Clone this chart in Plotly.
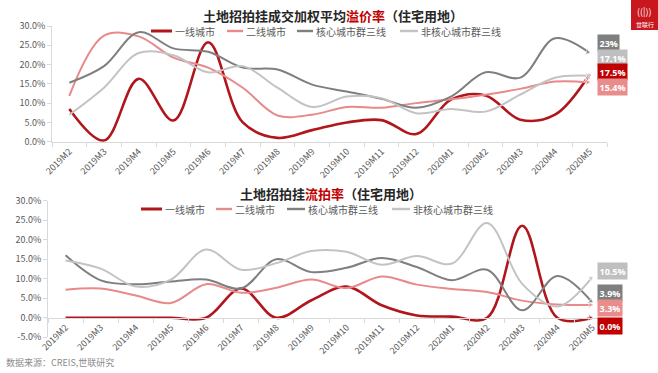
import plotly.graph_objects as go

cats = ["2019M2","2019M3","2019M4","2019M5","2019M6","2019M7","2019M8","2019M9",
        "2019M10","2019M11","2019M12","2020M1","2020M2","2020M3","2020M4","2020M5"]
series_names = ["一线城市", "二线城市", "核心城市群三线", "非核心城市群三线"]

# 溢价率 (%)
prem_tier1 = [8.5, 0.3, 16.3, 5.5, 25.8, 5.0, 1.0, 3.0, 5.0, 5.6, 2.0, 10.9, 12.0, 5.7, 7.0, 17.5]
prem_tier2 = [11.9, 27.5, 27.3, 21.8, 19.2, 14.0, 6.8, 7.0, 9.0, 8.8, 10.0, 11.0, 12.2, 13.7, 15.6, 15.4]
prem_core3 = [15.3, 19.6, 28.4, 24.2, 23.3, 19.2, 18.7, 14.8, 13.0, 11.1, 8.8, 11.7, 18.0, 16.6, 26.8, 23.0]
prem_noncore3 = [7.0, 14.0, 23.0, 22.4, 18.0, 19.6, 14.0, 9.0, 11.7, 11.3, 7.4, 8.5, 7.8, 12.2, 16.6, 17.1]

# 流拍率 (%)
flow_tier1 = [0, 0, 0, 0, 0, 7.5, 0, 4.5, 8.0, 3.2, 0.6, 0.3, 0, 23.6, 0, 0.0]
flow_tier2 = [7.2, 7.5, 5.7, 3.8, 8.6, 6.4, 7.7, 9.8, 7.6, 10.6, 8.5, 7.4, 6.6, 4.4, 3.4, 3.3]
flow_core3 = [16.0, 9.6, 8.6, 9.3, 9.8, 7.5, 15.0, 11.7, 12.8, 15.3, 13.0, 9.6, 12.3, 1.9, 10.7, 3.9]
flow_noncore3 = [14.7, 12.6, 8.0, 9.8, 17.5, 12.3, 14.0, 17.1, 16.9, 13.6, 15.8, 13.9, 24.3, 8.7, 2.9, 10.5]

yticks_top = [0, 5, 10, 15, 20, 25, 30]
yticks_bot = [-5, 0, 5, 10, 15, 20, 25, 30]

colors = ["#B0161C", "#E8898A", "#7F7F7F", "#C3C3C3"]
box_colors = ["#C00000", "#E88C8C", "#7F7F7F", "#BFBFBF"]
widths = [2.6, 2.0, 2.0, 2.0]

FONT = "Noto Sans CJK SC"
NUM_FONT = "Open Sans"
W, H = 658, 373

def px(x):
    return x / W

def py(y):
    return 1 - y / H

fig = go.Figure()

top_data = [prem_tier1, prem_tier2, prem_core3, prem_noncore3]
bot_data = [flow_tier1, flow_tier2, flow_core3, flow_noncore3]

n = len(cats)
for data, xa, ya in [(top_data, "x", "y"), (bot_data, "x2", "y2")]:
    for i, vals in enumerate(data):
        fig.add_trace(go.Scatter(
            x=cats, y=vals, xaxis=xa, yaxis=ya, mode="lines+markers",
            line=dict(color=colors[i], width=widths[i], shape="spline", smoothing=1.0),
            marker=dict(symbol="arrow-wide", angleref="previous",
                        size=[0] * (n - 1) + [8], color=colors[i]),
            showlegend=False, hoverinfo="skip"))

axis_common = dict(tickfont=dict(size=9, color="#595959", family=FONT),
                   showgrid=False, automargin=False)

bot_y0, bot_y1 = 337.3, 200.7
zero_px = bot_y0 - (bot_y0 - bot_y1) * 5 / 35

fig.update_layout(
    width=W, height=H, autosize=False,
    margin=dict(l=0, r=0, t=0, b=0, pad=0),
    paper_bgcolor="white", plot_bgcolor="white",
    font=dict(family=FONT, color="#404040"),
    xaxis=dict(domain=[px(52), px(607)], anchor="y", type="category",
               range=[-0.5, n - 0.5], tickangle=-45, showline=True,
               linecolor="#D9D9D9", linewidth=1, ticks="outside",
               tickson="boundaries", ticklen=4, tickcolor="#D9D9D9",
               **axis_common),
    yaxis=dict(domain=[py(141.7), py(26)], anchor="x", range=[0, 30],
               tickvals=yticks_top, ticktext=[f"{v:.1f}%" for v in yticks_top],
               showline=True, linecolor="#D9D9D9", ticks="outside", ticklen=4,
               tickcolor="#D9D9D9", zeroline=False, **axis_common),
    xaxis2=dict(domain=[px(48), px(610)], anchor="free", position=py(zero_px),
                type="category", range=[-0.5, n - 0.5], tickangle=-45,
                showline=True, linecolor="#D9D9D9", linewidth=1,
                ticks="outside", tickson="boundaries", ticklen=4,
                tickcolor="#D9D9D9", **axis_common),
    yaxis2=dict(domain=[py(bot_y0), py(bot_y1)], anchor="x2", range=[-5, 30],
                tickvals=yticks_bot, ticktext=[f"{v:.1f}%" for v in yticks_bot],
                showline=True, linecolor="#D9D9D9", ticks="outside", ticklen=4,
                tickcolor="#D9D9D9", zeroline=False, **axis_common),
)

annotations = []
shapes = []

def note(x, y, text, size, color, xanchor="center", family=FONT, **kw):
    annotations.append(dict(x=px(x), y=py(y), xref="paper", yref="paper",
                            xanchor=xanchor, yanchor="middle", showarrow=False,
                            text=text, font=dict(size=size, color=color, family=family), **kw))

# titles
note(333, 15, "<b>土地招拍挂成交加权平均<span style='color:#C00000'>溢价率</span>（住宅用地）</b>",
     13, "#262626")
note(331, 193, "<b>土地招拍挂<span style='color:#C00000'>流拍率</span>（住宅用地）</b>",
     13, "#262626")

# legends (manual)
legend_top = [(151, 172), (227, 243), (297, 313), (400, 418)]
legend_bot = [(141, 162), (216, 232), (287, 305), (392, 410)]
for pos, ly in [(legend_top, 31), (legend_bot, 209)]:
    for i, (x0, x1) in enumerate(pos):
        shapes.append(dict(type="line", xref="paper", yref="paper",
                           x0=px(x0), x1=px(x1), y0=py(ly), y1=py(ly),
                           line=dict(color=colors[i], width=widths[i] + 0.4)))
        note(x1 + 1, ly, series_names[i], 10, "#595959", xanchor="left")

# end labels
top_labels = [(prem_core3[-1], 2, 43.5, "23%"), (prem_noncore3[-1], 3, 58, None),
              (prem_tier1[-1], 0, 72, None), (prem_tier2[-1], 1, 86.5, None)]
bot_labels = [(flow_noncore3[-1], 3, 271, None), (flow_core3[-1], 2, 292.5, None),
              (flow_tier2[-1], 1, 307.5, None), (flow_tier1[-1], 0, 326, None)]
for labels in [top_labels, bot_labels]:
    for v, ci, ly, txt in labels:
        t = txt if txt else f"{v:.1f}%"
        note(597, ly, f"<b>{t}</b>", 9, "white", xanchor="left", family=NUM_FONT,
             bgcolor=box_colors[ci], borderpad=1.5)

# source
note(4, 362, "数据来源：CREIS,世联研究", 9, "#8C8C8C", xanchor="left")

# logo
shapes.append(dict(type="rect", xref="paper", yref="paper", x0=px(631), x1=1,
                   y0=py(30), y1=1, fillcolor="#C8171E", line=dict(width=0)))
note(644.5, 11, "((|))", 9, "white")
note(644.5, 24, "世联行", 6, "white")

fig.update_layout(annotations=annotations, shapes=shapes)

fig.write_html("out.html", config={"displayModeBar": False},
               post_script="document.body.style.margin='0';document.body.style.overflow='hidden';")
